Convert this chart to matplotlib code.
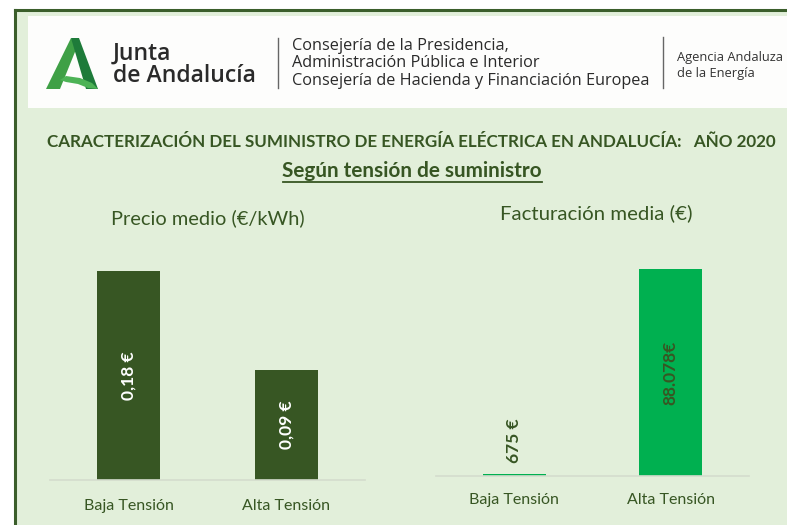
import matplotlib
matplotlib.use("Agg")
import matplotlib.pyplot as plt
from matplotlib.patches import Rectangle, Polygon
from matplotlib.lines import Line2D

# ---------------- data ----------------
categories = ["Baja Tensión", "Alta Tensión"]
precio_values = [0.178, 0.094]
precio_labels = ["0,18 €", "0,09 €"]
factura_values = [675, 88078]
factura_labels = ["675 €", "88.078€"]

title = "CARACTERIZACIÓN DEL SUMINISTRO DE ENERGÍA ELÉCTRICA EN ANDALUCÍA:   AÑO 2020"
subtitle = "Según tensión de suministro"
chart1_title = "Precio medio (€/kWh)"
chart2_title = "Facturación media (€)"
header_lines = ["Consejería de la Presidencia,",
                "Administración Pública e Interior",
                "Consejería de Hacienda y Financiación Europea"]
agency_lines = ["Agencia Andaluza", "de la Energía"]
logo_lines = ["Junta", "de Andalucía"]

# ---------------- style ----------------
W, H = 787, 525
DARK = "#375623"
BG = "#E2EFDA"
BAR1 = "#375623"
BAR2 = "#00B050"
CHART_FONT = ["Lato", "DejaVu Sans"]
HEAD_FONT = ["Open Sans", "DejaVu Sans"]

fig = plt.figure(figsize=(W / 100, H / 100), dpi=100)
fig.patch.set_facecolor("white")


def fx(x):
    return x / W


def fy(y):
    return 1 - y / H


renderer = fig.canvas.get_renderer()


def fit_text(x, y, s, target_w, size0=12, **kw):
    t = fig.text(fx(x), fy(y), s, fontsize=size0, **kw)
    bb = t.get_window_extent(renderer=renderer)
    rot = kw.get("rotation", 0)
    w = bb.height if rot in (90, 270) else bb.width
    t.set_fontsize(size0 * target_w / w)
    return t


# background and border
fig.add_artist(Rectangle((fx(16), fy(H)), 1, fy(11) - fy(H), transform=fig.transFigure,
                         facecolor=BG, edgecolor="none", zorder=0))
fig.add_artist(Line2D([fx(15), 1], [fy(10), fy(10)], transform=fig.transFigure,
                      color="#3b5e2b", lw=2.2, zorder=1))
fig.add_artist(Line2D([fx(15), fx(15)], [fy(10), 0], transform=fig.transFigure,
                      color="#3b5e2b", lw=2.2, zorder=1))
# white header
fig.add_artist(Rectangle((fx(28), fy(108)), 1, fy(16) - fy(108), transform=fig.transFigure,
                         facecolor="#FDFDFC", edgecolor="none", zorder=1))

# logo "A"
def poly(pts, color):
    fig.add_artist(Polygon([(fx(a), fy(b)) for a, b in pts], closed=True,
                           transform=fig.transFigure, facecolor=color,
                           edgecolor="none", zorder=2))

poly([(46, 89), (60, 89), (77, 47), (71, 38)], "#3FA046")
poly([(71, 38), (79, 38), (98, 89), (86, 89)], "#1E7B3A")
poly([(60, 80), (66, 76), (80, 78), (92, 83), (98, 89), (88, 88), (78, 84), (66, 82)], "#4DB356")

tl = fit_text(113, 82, logo_lines[1], 144, size0=16, family=HEAD_FONT, weight="semibold",
              color="#2a2a2a", ha="left", va="baseline", zorder=3)
fig.text(fx(113), fy(60), logo_lines[0], fontsize=tl.get_fontsize(), family=HEAD_FONT,
         weight="semibold", color="#2a2a2a", ha="left", va="baseline", zorder=3)

# separators
for xs, (y0, y1) in [(278, (38, 88)), (663, (37, 88))]:
    fig.add_artist(Line2D([fx(xs), fx(xs)], [fy(y0), fy(y1)], transform=fig.transFigure,
                          color="#666666", lw=1, zorder=3))

t0 = fit_text(292, 81, header_lines[2], 356, size0=11, family=HEAD_FONT,
              color="#2a2a2a", ha="left", va="center", zorder=3)
hs = t0.get_fontsize()
for s, yc in zip(header_lines[:2], [46, 63]):
    fig.text(fx(292), fy(yc), s, fontsize=hs, family=HEAD_FONT, color="#2a2a2a",
             ha="left", va="center", zorder=3)

ta = fit_text(677, 58, agency_lines[0], 107, size0=9, family=HEAD_FONT,
              color="#333333", ha="left", va="center", zorder=3)
fig.text(fx(677), fy(73), agency_lines[1], fontsize=ta.get_fontsize(), family=HEAD_FONT,
         color="#333333", ha="left", va="center", zorder=3)

# titles
fit_text(411, 142, title, 728, size0=12, family=CHART_FONT, weight="bold",
         color=DARK, ha="center", va="center", zorder=3)
st = fit_text(412, 171, subtitle, 259, size0=12, family=CHART_FONT, weight="bold",
              color=DARK, ha="center", va="center", zorder=3)
fig.add_artist(Line2D([fx(283), fx(542)], [fy(182), fy(182)], transform=fig.transFigure,
                      color=DARK, lw=1.3, zorder=3))
fit_text(208, 218, chart1_title, 193, size0=13, family=CHART_FONT,
         color=DARK, ha="center", va="center", zorder=3)
fit_text(596, 213, chart2_title, 192, size0=13, family=CHART_FONT,
         color=DARK, ha="center", va="center", zorder=3)


def make_axes(x0, x1, ybase, ytop, values, top_px, color, labels, label_color, inside_flags, label_y):
    ax = fig.add_axes([fx(x0), fy(ybase), fx(x1) - fx(x0), fy(ytop) - fy(ybase)])
    ax.set_facecolor("none")
    xs = range(len(values))
    ax.bar(xs, values, width=0.4, color=color, zorder=2)
    ax.set_xlim(-0.5, 1.5)
    ax.set_ylim(0, max(values) * (ybase - ytop) / (ybase - top_px))
    for sp in ["top", "right", "left"]:
        ax.spines[sp].set_visible(False)
    ax.spines["bottom"].set_color("#D4DCCD")
    ax.spines["bottom"].set_linewidth(1.2)
    ax.set_yticks([])
    ax.set_xticks([])
    for i, c in enumerate(categories):
        fig.text(fx(x0) + (fx(x1) - fx(x0)) * (i + 0.5) / 2, fy(label_y), c,
                 fontsize=11.5, family=CHART_FONT, color=DARK, ha="center", va="center")
    ymax = ax.get_ylim()[1]
    for i, (v, lab) in enumerate(zip(values, labels)):
        if inside_flags[i]:
            ax.text(i, v / 2, lab, rotation=90, ha="center", va="center",
                    fontsize=12.5, weight="bold", family=CHART_FONT,
                    color=label_color[i], zorder=3)
        else:
            ax.text(i, v + ymax * 0.05, lab, rotation=90, ha="center", va="bottom",
                    fontsize=12.5, weight="bold", family=CHART_FONT,
                    color=label_color[i], zorder=3)
    return ax


make_axes(50, 365, 480, 250, precio_values, 271, BAR1, precio_labels,
          ["white", "white"], [True, True], 506)
make_axes(436, 749, 476, 246, factura_values, 269, BAR2, factura_labels,
          [DARK, DARK], [False, True], 500)

fig.savefig("out.png", dpi=100, facecolor=fig.get_facecolor())
